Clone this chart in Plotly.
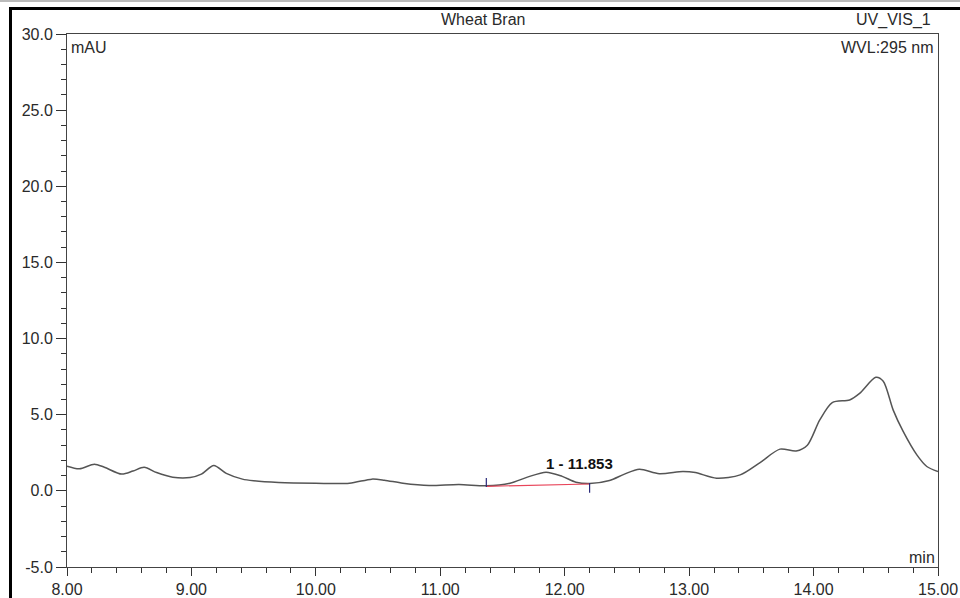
import plotly.graph_objects as go

# Chromatogram data (time in min, signal in mAU)
time_min = [8.00, 8.10, 8.22, 8.30, 8.44, 8.53, 8.62, 8.72, 8.85, 8.99, 9.08, 9.18, 9.28,
            9.41, 9.50, 9.70, 10.00, 10.27, 10.45, 10.55, 10.70, 10.91, 11.15, 11.37,
            11.56, 11.70, 11.85, 11.98, 12.09, 12.20, 12.36, 12.48, 12.60, 12.76, 12.95,
            13.05, 13.22, 13.41, 13.57, 13.73, 13.86, 13.95, 14.05, 14.15, 14.29, 14.37,
            14.50, 14.56, 14.64, 14.72, 14.83, 14.91, 15.00]
signal_mau = [1.62, 1.45, 1.75, 1.55, 1.10, 1.30, 1.55, 1.20, 0.90, 0.88, 1.10, 1.67, 1.15,
              0.77, 0.66, 0.55, 0.50, 0.50, 0.77, 0.70, 0.50, 0.35, 0.42, 0.33,
              0.50, 0.90, 1.23, 0.95, 0.57, 0.48, 0.68, 1.10, 1.42, 1.13, 1.27,
              1.20, 0.83, 1.05, 1.86, 2.74, 2.62, 3.00, 4.66, 5.80, 5.97, 6.40,
              7.46, 7.20, 5.30, 3.90, 2.36, 1.60, 1.27]

# Peak integration info
peak_label = "1 - 11.853"
peak_apex = [11.853, 1.77]
baseline_x = [11.37, 12.20]
baseline_y = [0.30, 0.45]
start_marker_x = [11.37, 11.37]
start_marker_y = [0.85, 0.26]
end_marker_x = [12.20, 12.20]
end_marker_y = [0.52, -0.13]

y_ticks = [-5, 0, 5, 10, 15, 20, 25, 30]
x_ticks = [8, 9, 10, 11, 12, 13, 14, 15]

FONT = "Liberation Sans, Arial, sans-serif"
TXT = "#2a2a2a"

fig = go.Figure()
fig.add_trace(go.Scatter(x=time_min, y=signal_mau, mode="lines",
                         line=dict(color="#555555", width=1.5, shape="spline", smoothing=0.8),
                         hoverinfo="skip"))
fig.add_trace(go.Scatter(x=baseline_x, y=baseline_y, mode="lines",
                         line=dict(color="#e8455a", width=1.2), hoverinfo="skip"))
fig.add_trace(go.Scatter(x=start_marker_x, y=start_marker_y, mode="lines",
                         line=dict(color="#2a2a7a", width=1.2), hoverinfo="skip"))
fig.add_trace(go.Scatter(x=end_marker_x, y=end_marker_y, mode="lines",
                         line=dict(color="#2a2a7a", width=1.2), hoverinfo="skip"))

W, H = 960, 598
L, R, T, B = 67, 22, 34, 31
pw, ph = W - L - R, H - T - B

def px(x):
    return (x - L) / pw

def py(y):
    return (H - B - y) / ph

annotations = [
    dict(text="Wheat Bran", x=px(483), y=py(20), xanchor="center", yanchor="middle"),
    dict(text="UV_VIS_1", x=px(933), y=py(20), xanchor="right", yanchor="middle"),
    dict(text="WVL:295 nm", x=px(935), y=py(48), xanchor="right", yanchor="middle"),
    dict(text="mAU", x=px(69), y=py(47.5), xanchor="left", yanchor="middle"),
    dict(text="min", x=px(937), y=py(557), xanchor="right", yanchor="middle"),
]
for a in annotations:
    a.update(xref="paper", yref="paper", showarrow=False,
             font=dict(family=FONT, size=16, color=TXT))
annotations.append(dict(text="<b>" + peak_label + "</b>", x=peak_apex[0], y=peak_apex[1],
                        xref="x", yref="y", xanchor="left", yanchor="middle", showarrow=False,
                        xshift=-2, font=dict(family=FONT, size=15, color="#111111")))

shapes = [
    dict(type="line", xref="paper", yref="paper", x0=px(10.5), x1=px(10.5), y0=py(8.5), y1=py(620),
         line=dict(color="#000000", width=3)),
    dict(type="line", xref="paper", yref="paper", x0=px(9), x1=px(970), y0=py(8.5), y1=py(8.5),
         line=dict(color="#000000", width=3)),
    dict(type="line", xref="paper", yref="paper", x0=px(0), x1=px(970), y0=py(1), y1=py(1),
         line=dict(color="#bbbbbb", width=2)),
]

fig.update_layout(
    width=W, height=H,
    margin=dict(l=L, r=R, t=T, b=B, autoexpand=False),
    paper_bgcolor="white", plot_bgcolor="white",
    showlegend=False,
    annotations=annotations,
    shapes=shapes,
    font=dict(family=FONT, size=16, color=TXT),
)
fig.update_xaxes(range=[8, 15], tickvals=x_ticks, ticktext=[f"{v:.2f}" for v in x_ticks],
                 automargin=False,
                 ticks="outside", ticklen=8, tickcolor="#333333", tickwidth=1,
                 showline=True, linecolor="#444444", linewidth=1, mirror=True,
                 showgrid=False, zeroline=False,
                 minor=dict(dtick=0.2, tick0=8, ticks="outside", ticklen=5, tickcolor="#333333",
                            showgrid=False),
                 tickfont=dict(family=FONT, size=16, color=TXT))
fig.update_yaxes(range=[-5, 30], tickvals=y_ticks, ticktext=[f"{v:.1f}" for v in y_ticks],
                 automargin=False,
                 ticks="outside", ticklen=10, tickcolor="#333333", tickwidth=1,
                 showline=True, linecolor="#444444", linewidth=1, mirror=True,
                 showgrid=False, zeroline=False,
                 minor=dict(dtick=1, tick0=0, ticks="outside", ticklen=5, tickcolor="#333333",
                            showgrid=False),
                 tickfont=dict(family=FONT, size=16, color=TXT))

fig.write_html("out.html", config={"displayModeBar": False},
               post_script="document.body.style.margin='0';document.body.style.overflow='hidden';")
